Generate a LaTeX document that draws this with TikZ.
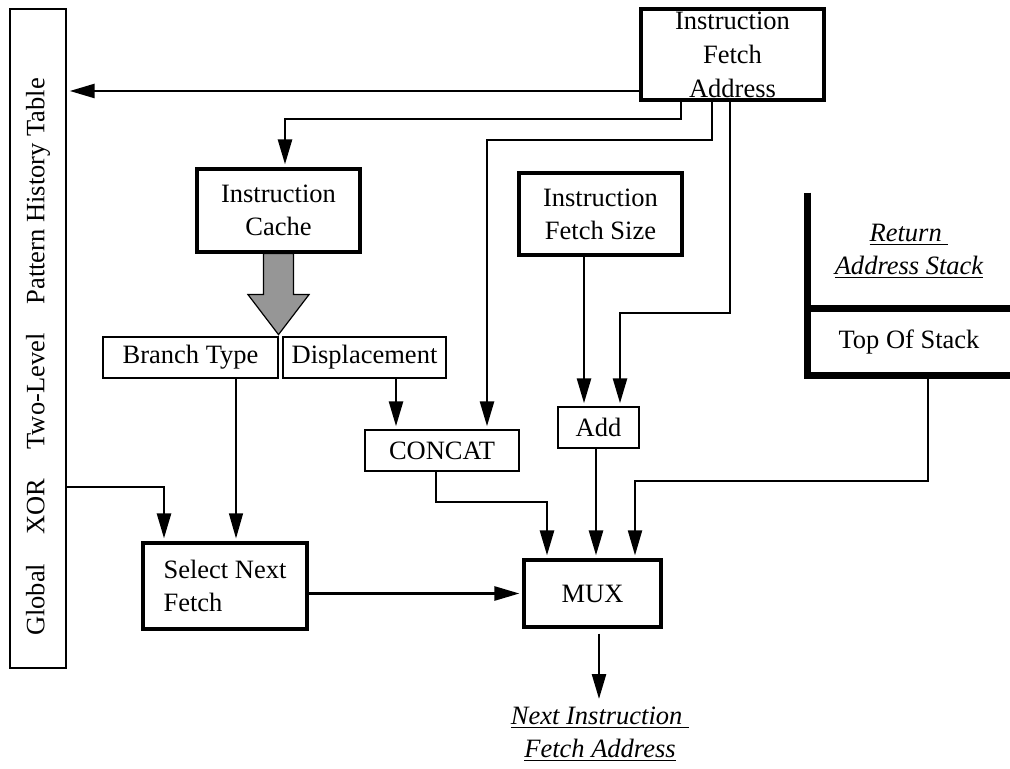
\documentclass[tikz,border=0pt]{standalone}
\usepackage{fontspec}
\setmainfont{Liberation Serif}
\usetikzlibrary{arrows.meta}
\definecolor{arrowgray}{RGB}{150,150,150}
\tikzset{
	blk/.style={draw, line width=1.6pt, align=center, inner sep=0pt},
	sub/.style={draw, line width=0.7pt, align=center, inner sep=0pt},
	conn/.style={line width=1.3pt, -{Triangle[length=12.5pt,width=7pt]}, shorten >=1.5pt},
	thinconn/.style={conn, line width=0.6pt},
	stackline/.style={line width=3.3pt, line join=miter},
	ulabel/.style={align=center, font=\fontsize{13.25}{16.5}\selectfont\itshape}
}
\begin{document}
\begin{tikzpicture}[x=0.5pt, y=-0.5pt, font=\fontsize{13.25}{16.5}\selectfont]
	\useasboundingbox (0,0) rectangle (1010,769);

	\node[blk, minimum width=91.5pt, minimum height=45.5pt, font=\fontsize{13.25}{17}\selectfont] (ifa) at (732.5,54.5) {Instruction\\Fetch\\Address};
	\node[sub, minimum width=28pt, minimum height=329.5pt] (ghr) at (38,338.5) {};
	\node[rotate=90] (ghrtxt) at (38,357) {Global\hspace{1.1em}XOR\hspace{1.1em}Two-Level\hspace{1.1em}Pattern History Table};
	\node[blk, minimum width=81.5pt, minimum height=41.5pt] (icache) at (278.5,210.5) {Instruction\\Cache};
	\node[blk, minimum width=81.5pt, minimum height=41pt] (ifsize) at (600.5,214) {Instruction\\Fetch Size};
	\node[sub, minimum width=87.5pt, minimum height=20.5pt] (btype) at (190.5,357.5) {Branch Type};
	\node[sub, minimum width=81.5pt, minimum height=20.5pt] (disp) at (364.5,357.5) {Displacement};
	\node[sub, minimum width=77pt, minimum height=20.5pt] (concat) at (442,450.5) {CONCAT};
	\node[sub, minimum width=40.5pt, minimum height=20.5pt] (add) at (598.5,427.5) {Add};
	\node[blk, minimum width=82pt, minimum height=43pt, align=left] (snf) at (225,586) {Select Next\\Fetch};
	\node[blk, minimum width=68.5pt, minimum height=33.5pt] (mux) at (592.5,593.5) {MUX};
	\node[ulabel, minimum width=101pt, minimum height=58pt] (ras) at (909,251) {\underline{Return\ }\\\underline{Address Stack}};
	\node[minimum width=101pt, minimum height=33pt, inner sep=0pt] (tos) at (909,342) {Top Of Stack};
	\node[ulabel] (next) at (600,734) {\underline{Next Instruction\ }\\\underline{Fetch Address}};

	\coordinate (ghrin) at (0,91);
	\coordinate (tapA) at (681,119);
	\coordinate (icin) at (285,0);
	\coordinate (tapB) at (712,140);
	\coordinate (catin) at (487,0);
	\coordinate (tapC) at (730,313);
	\coordinate (addin) at (620,0);
	\coordinate (sizeout) at (584,0);
	\coordinate (btx) at (236,0);
	\coordinate (dispx) at (396,0);
	\coordinate (ghrout) at (0,487);
	\coordinate (snfin) at (164,0);
	\coordinate (catout) at (436,502);
	\coordinate (catmux) at (547,0);
	\coordinate (addx) at (596,0);
	\coordinate (tosout) at (928,481);
	\coordinate (tosmux) at (635,0);
	\coordinate (nextin) at (599,702);

	\draw[conn] (ifa.west |- ghrin) -- (ghr.east |- ghrin);
	\draw[conn] (ifa.south -| tapA) -- (tapA) -| (icache.north -| icin);
	\draw[conn] (ifa.south -| tapB) -- (tapB) -| (concat.north -| catin);
	\draw[conn] (ifa.south -| tapC) -- (tapC) -| (add.north -| addin);
	\draw[conn] (ifsize.south -| sizeout) -- (add.north -| sizeout);

	\draw[fill=arrowgray, line width=0.6pt] (icache.south) ++(-15,0) -- ++(0,41) -- ++(-15.5,0) -- ++(30.5,40) -- ++(30.5,-40) -- ++(-15.5,0) -- ++(0,-41) -- cycle;

	\draw[thinconn] (btype.south -| btx) -- (snf.north -| btx);
	\draw[conn] (disp.south -| dispx) -- (concat.north -| dispx);
	\draw[conn] (ghr.east |- ghrout) -| (snf.north -| snfin);
	\draw[conn] (concat.south -| catout) -- (catout) -| (mux.north -| catmux);
	\draw[conn] (add.south -| addx) -- (mux.north -| addx);
	\draw[conn, line width=1pt] (tos.south -| tosout) -- (tosout) -| (mux.north -| tosmux);
	\draw[conn] (snf.east |- mux.west) -- (mux.west);
	\draw[conn, shorten <=2.5pt] (mux.south -| nextin) -- (nextin);

	\draw[stackline] (ras.north west) -- (tos.south west) -- (tos.south east);
	\draw[stackline] (tos.north west) -- (tos.north east);
\end{tikzpicture}
\end{document}
